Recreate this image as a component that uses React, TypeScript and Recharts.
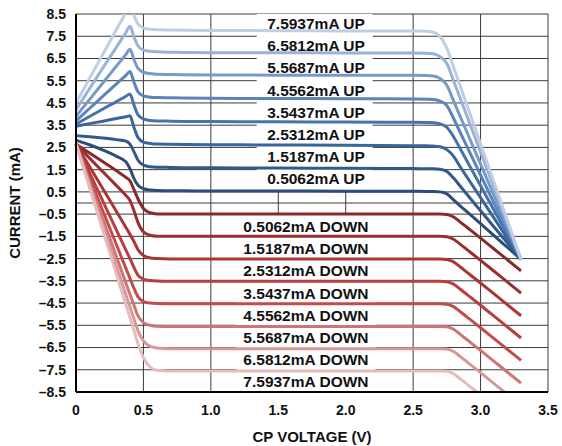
import React from 'react';
import { LineChart, Line, XAxis, YAxis, CartesianGrid, ReferenceArea } from 'recharts';

// CP voltage sample points (V)
const voltages = [0, 0.1, 0.2, 0.3, 0.37, 0.4, 0.43, 0.46, 0.5, 0.55, 0.6, 0.7, 0.8, 1.0, 1.5, 2.0, 2.5, 2.6, 2.65, 2.7, 2.75, 2.8, 2.85, 2.9, 3.0, 3.1, 3.2, 3.3];

// UP currents (mA)
const up0506 = [2.83, 2.62, 2.38, 2.1, 1.85, 1.55, 1.1, 0.8, 0.64, 0.58, 0.56, 0.55, 0.55, 0.54, 0.54, 0.53, 0.53, 0.52, 0.52, 0.5, 0.41, 0.14, -0.14, -0.4, -0.93, -1.47, -2.0, -2.53];
const up1519 = [3.03, 2.98, 2.92, 2.85, 2.78, 2.65, 2.3, 1.92, 1.7, 1.63, 1.61, 1.6, 1.59, 1.58, 1.57, 1.56, 1.55, 1.54, 1.54, 1.52, 1.42, 1.12, 0.75, 0.38, -0.35, -1.08, -1.8, -2.53];
const up2531 = [3.45, 3.57, 3.68, 3.8, 3.88, 3.92, 3.4, 2.94, 2.74, 2.68, 2.65, 2.64, 2.63, 2.62, 2.61, 2.6, 2.58, 2.57, 2.56, 2.53, 2.4, 2.1, 1.62, 1.16, 0.24, -0.68, -1.61, -2.53];
const up3544 = [3.55, 3.89, 4.23, 4.56, 4.8, 4.9, 4.4, 3.96, 3.78, 3.71, 3.69, 3.68, 3.67, 3.66, 3.65, 3.64, 3.63, 3.62, 3.61, 3.56, 3.4, 2.98, 2.43, 1.88, 0.78, -0.33, -1.43, -2.53];
const up4556 = [3.7, 4.25, 4.81, 5.36, 5.74, 5.91, 5.43, 5.0, 4.82, 4.76, 4.74, 4.73, 4.72, 4.71, 4.7, 4.69, 4.68, 4.67, 4.66, 4.58, 4.38, 3.8, 3.16, 2.53, 1.26, -0.01, -1.27, -2.53];
const up5569 = [3.9, 4.65, 5.41, 6.16, 6.68, 6.91, 6.45, 6.05, 5.88, 5.82, 5.79, 5.78, 5.77, 5.76, 5.75, 5.75, 5.74, 5.73, 5.71, 5.6, 5.3, 4.59, 3.88, 3.17, 1.75, 0.33, -1.1, -2.53];
const up6581 = [4.2, 5.14, 6.08, 7.01, 7.67, 7.95, 7.47, 7.06, 6.88, 6.82, 6.8, 6.78, 6.77, 6.76, 6.76, 6.75, 6.75, 6.74, 6.71, 6.58, 6.27, 5.49, 4.69, 3.89, 2.29, 0.69, -0.92, -2.53];
const up7594 = [4.5, 5.6, 6.7, 7.8, 8.57, 8.9, 8.44, 8.04, 7.87, 7.81, 7.79, 7.78, 7.77, 7.76, 7.75, 7.74, 7.73, 7.72, 7.68, 7.48, 6.95, 6.1, 5.25, 4.38, 2.65, 0.93, -0.8, -2.53];

// DOWN currents (mA)
const dn0506 = [2.65, 2.25, 1.85, 1.45, 1.15, 1.0, 0.6, 0.18, -0.25, -0.44, -0.49, -0.5, -0.5, -0.5, -0.5, -0.5, -0.5, -0.5, -0.5, -0.5, -0.52, -0.63, -0.86, -1.1, -1.58, -2.07, -2.56, -3.05];
const dn1519 = [2.65, 2.02, 1.4, 0.78, 0.34, 0.12, -0.35, -0.88, -1.3, -1.45, -1.49, -1.5, -1.5, -1.5, -1.5, -1.5, -1.5, -1.5, -1.5, -1.5, -1.52, -1.63, -1.86, -2.1, -2.58, -3.07, -3.56, -4.05];
const dn2531 = [2.65, 1.64, 0.63, -0.38, -1.1, -1.4, -1.73, -2.1, -2.36, -2.47, -2.5, -2.52, -2.52, -2.52, -2.52, -2.52, -2.52, -2.52, -2.52, -2.52, -2.54, -2.65, -2.88, -3.12, -3.6, -4.09, -4.58, -5.07];
const dn3544 = [2.65, 1.36, 0.07, -1.22, -2.12, -2.5, -2.9, -3.25, -3.42, -3.49, -3.51, -3.52, -3.52, -3.52, -3.52, -3.52, -3.52, -3.52, -3.52, -3.52, -3.54, -3.65, -3.88, -4.12, -4.6, -5.09, -5.58, -6.07];
const dn4556 = [2.65, 1.14, -0.37, -1.88, -2.94, -3.39, -3.84, -4.22, -4.43, -4.5, -4.52, -4.53, -4.53, -4.53, -4.53, -4.53, -4.53, -4.53, -4.53, -4.53, -4.55, -4.66, -4.89, -5.13, -5.61, -6.1, -6.59, -7.08];
const dn5569 = [2.65, 0.96, -0.73, -2.42, -3.6, -4.1, -4.6, -5.08, -5.38, -5.5, -5.54, -5.55, -5.55, -5.55, -5.55, -5.55, -5.55, -5.55, -5.55, -5.55, -5.57, -5.68, -5.91, -6.15, -6.63, -7.12, -7.61, -8.1];
const dn6581 = [2.65, 0.82, -1.01, -2.84, -4.12, -4.67, -5.22, -5.75, -6.2, -6.45, -6.52, -6.55, -6.55, -6.55, -6.55, -6.55, -6.55, -6.55, -6.55, -6.55, -6.57, -6.68, -6.91, -7.15, -7.63, -8.12, -8.61, -9.1];
const dn7594 = [2.65, 0.7, -1.25, -3.2, -4.57, -5.15, -5.74, -6.33, -6.95, -7.38, -7.52, -7.55, -7.55, -7.55, -7.55, -7.55, -7.55, -7.55, -7.55, -7.55, -7.57, -7.68, -7.91, -8.15, -8.63, -9.12, -9.61, -10.1];

const upSeries = [up0506, up1519, up2531, up3544, up4556, up5569, up6581, up7594];
const downSeries = [dn0506, dn1519, dn2531, dn3544, dn4556, dn5569, dn6581, dn7594];

const upLabels = ['0.5062mA UP', '1.5187mA UP', '2.5312mA UP', '3.5437mA UP', '4.5562mA UP', '5.5687mA UP', '6.5812mA UP', '7.5937mA UP'];
const downLabels = ['0.5062mA DOWN', '1.5187mA DOWN', '2.5312mA DOWN', '3.5437mA DOWN', '4.5562mA DOWN', '5.5687mA DOWN', '6.5812mA DOWN', '7.5937mA DOWN'];

const xTicks = [0, 0.5, 1.0, 1.5, 2.0, 2.5, 3.0, 3.5];
const yTicks = [-8.5, -7.5, -6.5, -5.5, -4.5, -3.5, -2.5, -1.5, -0.5, 0.5, 1.5, 2.5, 3.5, 4.5, 5.5, 6.5, 7.5, 8.5];

const upColors = ['#2C4C7A', '#31598C', '#38659B', '#4573AB', '#5A84BB', '#7699C8', '#98B2D7', '#C0CEE5'];
const downColors = ['#8A2929', '#9B2F2F', '#AB3535', '#B73F3F', '#C24C4C', '#CD7474', '#D89898', '#E4BCBC'];

const FONT = '"Liberation Sans", Arial, Helvetica, sans-serif';

const toPoints = (ys: number[]) => voltages.map((v, i) => ({ v, y: ys[i] }));

const fmtY = (v: number) => (v < 0 ? '\u2013' + Math.abs(v).toFixed(1) : v.toFixed(1));
const fmtX = (v: number) => (v === 0 ? '0' : v.toFixed(1));

export default function App() {
  const tickStyle = { fontSize: 14, fontWeight: 700, fill: '#111', fontFamily: FONT };
  const labelStyle = { fontSize: 15.5, fontWeight: 700, fill: '#111', fontFamily: FONT };
  return (
    <div style={{ position: 'absolute', left: 0, top: 0, width: 562, height: 446, background: '#fff' }}>
      <LineChart width={562} height={446} margin={{ top: 14, right: 14, bottom: 0, left: 0 }}>
        <CartesianGrid
          stroke="#3a3a3a"
          strokeWidth={1}
          horizontalValues={[...yTicks, 0]}
          verticalValues={xTicks}
        />
        <XAxis
          dataKey="v"
          type="number"
          domain={[0, 3.5]}
          ticks={xTicks}
          tickFormatter={fmtX}
          interval={0}
          height={54}
          tickLine={false}
          tickMargin={7}
          axisLine={{ stroke: '#000', strokeWidth: 2 }}
          tick={tickStyle}
          label={{ value: 'CP VOLTAGE (V)', position: 'insideBottom', offset: 4, style: { fontSize: 15, fontWeight: 700, fill: '#111', fontFamily: FONT } }}
        />
        <XAxis xAxisId="top" orientation="top" type="number" domain={[0, 3.5]} height={0} tick={false} tickLine={false} axisLine={{ stroke: '#000', strokeWidth: 2 }} />
        <YAxis
          type="number"
          domain={[-8.5, 8.5]}
          allowDataOverflow
          ticks={yTicks}
          tickFormatter={fmtY}
          interval={0}
          width={76}
          tickLine={false}
          tickMargin={4}
          axisLine={{ stroke: '#000', strokeWidth: 2 }}
          tick={tickStyle}
          label={{ value: 'CURRENT (mA)', angle: -90, position: 'insideLeft', offset: 15, style: { textAnchor: 'middle', fontSize: 15, fontWeight: 700, fill: '#111', fontFamily: FONT } }}
        />
        <YAxis yAxisId="right" orientation="right" type="number" domain={[-8.5, 8.5]} width={0} tick={false} tickLine={false} axisLine={{ stroke: '#000', strokeWidth: 2 }} />

        <ReferenceArea x1={1.34} x2={2.2} y1={0.52} y2={8.5} fill="#fff" fillOpacity={1} stroke="none" zIndex={50} />
        <ReferenceArea x1={1.19} x2={2.22} y1={-8.5} y2={-0.52} fill="#fff" fillOpacity={1} stroke="none" zIndex={50} />

        {downSeries.map((s, i) => (
          <Line key={'d' + i} data={toPoints(s)} dataKey="y" type="monotone" stroke={downColors[i]} strokeWidth={3} dot={false} activeDot={false} isAnimationActive={false} />
        ))}
        {upSeries.map((s, i) => (
          <Line key={'u' + i} data={toPoints(s)} dataKey="y" type="monotone" stroke={upColors[i]} strokeWidth={3} dot={false} activeDot={false} isAnimationActive={false} />
        ))}

        {upLabels.map((t, i) => (
          <ReferenceArea key={'ul' + i} x1={1.4} x2={2.16} y1={i + 1 + 0.08 - 0.3} y2={i + 1 + 0.08 + 0.3} fill="none" fillOpacity={0} stroke="none"
            label={{ value: t, position: 'center', ...labelStyle }} />
        ))}
        {downLabels.map((t, i) => (
          <ReferenceArea key={'dl' + i} x1={1.24} x2={2.17} y1={-(i + 1) - 0.05 - 0.3} y2={-(i + 1) - 0.05 + 0.3} fill="none" fillOpacity={0} stroke="none"
            label={{ value: t, position: 'center', ...labelStyle }} />
        ))}
      </LineChart>
    </div>
  );
}
